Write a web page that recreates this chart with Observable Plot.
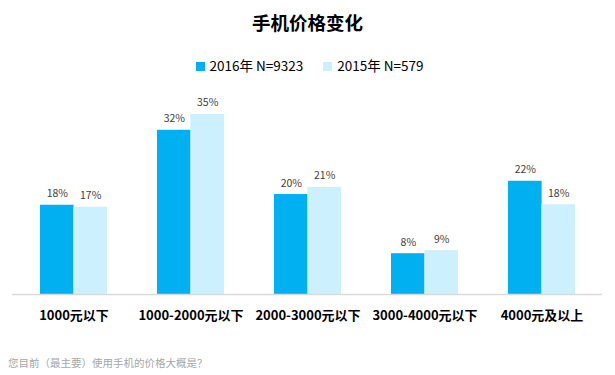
<!DOCTYPE html>
<html><head><meta charset="utf-8">
<script src="https://cdn.jsdelivr.net/npm/d3@7"></script>
<script src="https://cdn.jsdelivr.net/npm/@observablehq/plot@0.6"></script>
<style>
body{margin:0;background:#fff;font-family:"Noto Sans CJK SC","Noto Sans",sans-serif;}
#wrap{position:relative;width:615px;height:375px;overflow:hidden;}
#title{position:absolute;top:9px;left:0;width:615px;text-align:center;font-size:18.5px;font-weight:bold;color:#000;line-height:26px;}
#legend{position:absolute;top:55px;left:0;width:615px;display:flex;justify-content:center;gap:20px;font-size:13.5px;color:#000;line-height:20px;padding-left:2px;}
#legend span.sw{display:inline-block;width:9px;height:9px;margin-right:5px;vertical-align:0px;}
#chart{position:absolute;top:80px;left:0;}
#caption{position:absolute;top:355px;left:8px;font-size:10.5px;color:#a6a6a6;line-height:16px;}
</style></head>
<body><div id="wrap">
<div id="title"></div>
<div id="legend"></div>
<div id="chart"></div>
<div id="caption"></div>
</div>
<script>
const title = "手机价格变化";
const caption = "您目前（最主要）使用手机的价格大概是？";
const categories = ["1000元以下", "1000-2000元以下", "2000-3000元以下", "3000-4000元以下", "4000元及以上"];
const seriesNames = ["2016年 N=9323", "2015年 N=579"];
const colors = ["#00b0f0", "#ccf0fd"];
const values2016 = [17.5, 32.2, 19.6, 8.0, 22.2];
const values2015 = [17.1, 35.3, 21.0, 8.6, 17.6];
const labels2016 = ["18%", "32%", "20%", "8%", "22%"];
const labels2015 = ["17%", "35%", "21%", "9%", "18%"];

document.getElementById("title").textContent = title;
document.getElementById("caption").textContent = caption;
const leg = document.getElementById("legend");
seriesNames.forEach((n, i) => {
  const d = document.createElement("div");
  d.innerHTML = `<span class="sw" style="background:${colors[i]}"></span>${n}`;
  leg.appendChild(d);
});

const d16 = categories.map((c, i) => ({cat: c, v: values2016[i], label: labels2016[i]}));
const d15 = categories.map((c, i) => ({cat: c, v: values2015[i], label: labels2015[i]}));

const half = 33.4;
const plot = Plot.plot({
  width: 615,
  height: 250,
  marginTop: 10,
  marginBottom: 36,
  marginLeft: 12,
  marginRight: 13,
  style: {fontFamily: '"Noto Sans CJK SC","Noto Sans",sans-serif', background: "transparent"},
  x: {domain: categories, paddingInner: 0.43, paddingOuter: 0.232, axis: null},
  y: {domain: [0, 40], axis: null},
  marks: [
    Plot.barY(d16, {x: "cat", y: "v", fill: colors[0], insetRight: half}),
    Plot.barY(d15, {x: "cat", y: "v", fill: colors[1], insetLeft: half}),
    Plot.ruleY([0], {stroke: "#d9d9d9", strokeWidth: 1.5}),
    Plot.text(d16, {x: "cat", y: "v", text: "label", dx: -half/2, dy: -8, lineAnchor: "bottom", fontSize: 10.5, fill: "#404040"}),
    Plot.text(d15, {x: "cat", y: "v", text: "label", dx: half/2, dy: -8, lineAnchor: "bottom", fontSize: 10.5, fill: "#404040"}),
    Plot.axisX({tickSize: 0, tickPadding: 16, fontSize: 13, fontWeight: "bold", fill: "#000", label: null})
  ]
});
document.getElementById("chart").appendChild(plot);
</script>
</body></html>
